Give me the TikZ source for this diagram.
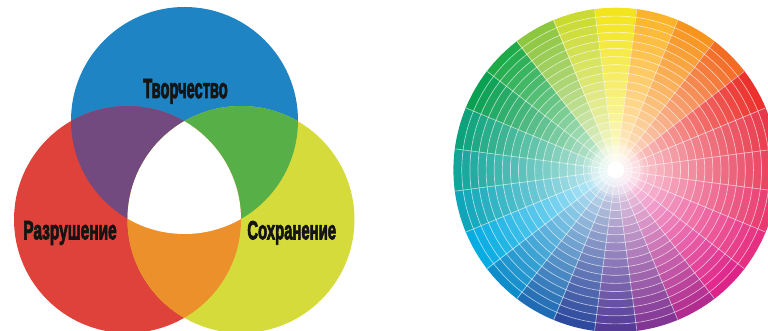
\documentclass[tikz,border=0pt]{standalone}
\usepackage{fontspec}
\setmainfont{Liberation Sans}
\newfontfamily\heavyfont{Liberation Sans}[BoldFont={Liberation Sans Bold}, BoldFeatures={FakeBold=3.5}]
\definecolor{vblue}{HTML}{1F84C4}
\definecolor{vred}{HTML}{DE423A}
\definecolor{vyellow}{HTML}{D6DB3C}
\definecolor{vpurple}{HTML}{724A7F}
\definecolor{vgreen}{HTML}{57AF48}
\definecolor{vorange}{HTML}{EB902B}
\definecolor{wc0}{HTML}{F2E51D}
\definecolor{wc1}{HTML}{FBB42A}
\definecolor{wc2}{HTML}{F7941E}
\definecolor{wc3}{HTML}{F26C24}
\definecolor{wc4}{HTML}{EC312C}
\definecolor{wc5}{HTML}{E8394A}
\definecolor{wc6}{HTML}{E83F5C}
\definecolor{wc7}{HTML}{E83A6E}
\definecolor{wc8}{HTML}{E62F80}
\definecolor{wc9}{HTML}{DE2388}
\definecolor{wc10}{HTML}{B22B8E}
\definecolor{wc11}{HTML}{833594}
\definecolor{wc12}{HTML}{553B96}
\definecolor{wc13}{HTML}{2E4A9E}
\definecolor{wc14}{HTML}{1F6CB4}
\definecolor{wc15}{HTML}{0F8DCB}
\definecolor{wc16}{HTML}{06ACE2}
\definecolor{wc17}{HTML}{10A6B9}
\definecolor{wc18}{HTML}{13A59A}
\definecolor{wc19}{HTML}{0DA27C}
\definecolor{wc20}{HTML}{0AA052}
\definecolor{wc21}{HTML}{1FAA4A}
\definecolor{wc22}{HTML}{8DC63F}
\definecolor{wc23}{HTML}{CBDA31}
\begin{document}
\begin{tikzpicture}[x=1pt,y=1pt,
  lbl/.style={inner sep=0pt, text=black!92, font=\heavyfont\bfseries, anchor=base},
  ringline/.style={white, opacity=0.6, line width=0.7pt}]
\useasboundingbox (0,0) rectangle (768,331);
\clip (0,0) rectangle (768,331);
% Venn diagram
\coordinate (B) at (184.5,210.5);
\coordinate (R) at (127.5,111.5);
\coordinate (Y) at (241,111.5);
\def\rv{113.5}
\fill[vblue] (B) circle[radius=\rv];
\fill[vred] (R) circle[radius=\rv];
\fill[vyellow] (Y) circle[radius=\rv];
\begin{scope}
  \clip (B) circle[radius=\rv];
  \fill[vpurple] (R) circle[radius=\rv];
  \fill[vgreen] (Y) circle[radius=\rv];
\end{scope}
\begin{scope}
  \clip (R) circle[radius=\rv];
  \fill[vorange] (Y) circle[radius=\rv];
\end{scope}
\begin{scope}
  \clip (B) circle[radius=\rv];
  \clip (R) circle[radius=\rv];
  \fill[white] (Y) circle[radius=\rv];
\end{scope}
\node[lbl] (tvor) at (185.5,233) {\resizebox{84.4pt}{19pt}{Творчество}};
\node[lbl] (razr) at (70,91.7) {\resizebox{93.4pt}{18.3pt}{Разрушение}};
\node[lbl] (sokh) at (291.7,91.7) {\resizebox{88.7pt}{18.3pt}{Сохранение}};
% colour wheel
\begin{scope}[shift={(615.7,161)}]
\foreach \k in {0,...,23}{
  \pgfmathsetmacro\a{90-15*\k}
  \pgfmathsetmacro\aa{\a-7.7}
  \pgfmathsetmacro\ab{\a+7.7}
  \foreach \i in {1,...,20}{
    \pgfmathsetmacro\p{100*(\i/20)^0.75}
    \pgfmathsetmacro\ri{(\i-1)*8.1+0.01}
    \pgfmathsetmacro\ro{\i*8.1+0.3}
    \fill[wc\k!\p!white] (\aa:\ri) arc[start angle=\aa, end angle=\ab, radius=\ri]
       -- (\ab:\ro) arc[start angle=\ab, end angle=\aa, radius=\ro] -- cycle;
  }
}
\foreach \k in {0,...,23}
  \draw[ringline] (0,0) -- ({7.5+15*\k}:162);
\foreach \i in {1,...,19}
  \draw[ringline] (0,0) circle[radius=\i*8.1];
\foreach \rr in {28,23,18,13}
  \fill[white, opacity=0.2] (0,0) circle[radius=\rr];
\fill[white] (0,0) circle[radius=8.5];
\end{scope}
\end{tikzpicture}
\end{document}
